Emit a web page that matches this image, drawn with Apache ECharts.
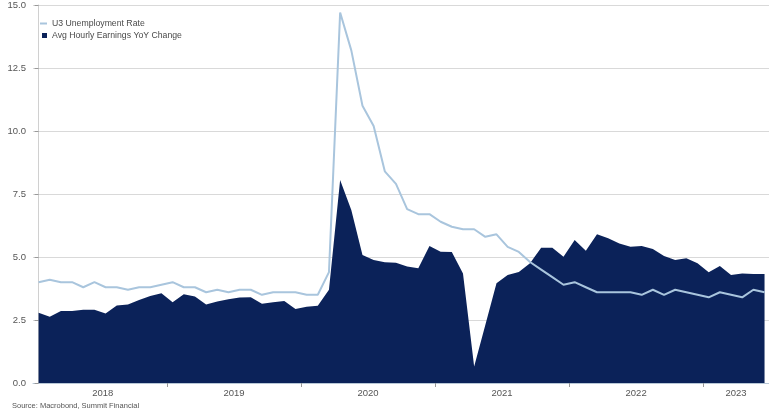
<!DOCTYPE html>
<html>
<head>
<meta charset="utf-8">
<script src="https://cdn.jsdelivr.net/npm/echarts@6/dist/echarts.min.js"></script>
<style>
  html, body { margin: 0; padding: 0; background: #fff; }
  #chart { width: 769px; height: 415px; }
</style>
</head>
<body>
<div id="chart"></div>
<script>
  // monthly observations, Jan 2018 .. Jun 2023
  const months = []
  for (let y = 2018; y <= 2023; y++) {
    for (let m = 1; m <= 12; m++) {
      if (y === 2023 && m > 6) break
      months.push(y + '-' + String(m).padStart(2, '0'))
    }
  }

  // U3 unemployment rate (%)
  const unemployment = [
    4.0, 4.1, 4.0, 4.0, 3.8, 4.0, 3.8, 3.8, 3.7, 3.8, 3.8, 3.9,
    4.0, 3.8, 3.8, 3.6, 3.7, 3.6, 3.7, 3.7, 3.5, 3.6, 3.6, 3.6,
    3.5, 3.5, 4.4, 14.7, 13.2, 11.0, 10.2, 8.4, 7.9, 6.9, 6.7, 6.7,
    6.4, 6.2, 6.1, 6.1, 5.8, 5.9, 5.4, 5.2, 4.8, 4.5, 4.2, 3.9,
    4.0, 3.8, 3.6, 3.6, 3.6, 3.6, 3.5, 3.7, 3.5, 3.7, 3.6, 3.5,
    3.4, 3.6, 3.5, 3.4, 3.7, 3.6
  ]

  // avg hourly earnings, YoY change (%)
  const earnings = [
    2.79, 2.63, 2.86, 2.86, 2.91, 2.91, 2.76, 3.08, 3.12, 3.29, 3.45, 3.56,
    3.2, 3.52, 3.43, 3.12, 3.23, 3.32, 3.39, 3.4, 3.14, 3.2, 3.25, 2.94,
    3.03, 3.07, 3.7, 8.06, 6.87, 5.08, 4.88, 4.79, 4.77, 4.62, 4.55, 5.44,
    5.21, 5.2, 4.35, 0.65, 2.3, 3.96, 4.29, 4.4, 4.75, 5.37, 5.37, 5.01,
    5.67, 5.25, 5.9, 5.74, 5.54, 5.41, 5.44, 5.32, 5.04, 4.88, 4.95, 4.75,
    4.39, 4.64, 4.29, 4.35, 4.33, 4.33
  ]

  // x axis: year boundaries and year label positions (month index units)
  const yearTicks = [11.5, 23.5, 35.5, 47.5, 59.5]
  const yearLabelPos = [5.75, 17.5, 29.5, 41.5, 53.5, 62.45]

  const yTicks = [0, 2.5, 5, 7.5, 10, 12.5, 15]

  const fontFamily = '"Liberation Sans", Arial, sans-serif'

  const chart = echarts.init(document.getElementById('chart'))
  chart.setOption({
    animation: false,
    textStyle: { fontFamily },
    grid: { left: 33, right: 0, top: 5, bottom: 32 },
    legend: [
      {
        data: ['U3 Unemployment Rate'],
        left: 40,
        top: 19,
        icon: 'rect',
        itemWidth: 7,
        itemHeight: 2,
        selectedMode: false,
        padding: 0,
        textStyle: { fontSize: 8.7, color: '#4a4a4a', fontFamily }
      },
      {
        data: ['Avg Hourly Earnings YoY Change'],
        left: 42,
        top: 31,
        icon: 'rect',
        itemWidth: 5,
        itemHeight: 5,
        selectedMode: false,
        padding: 0,
        textStyle: { fontSize: 8.7, color: '#4a4a4a', fontFamily }
      }
    ],
    xAxis: {
      type: 'value',
      min: -0.5,
      max: 65.4,
      splitLine: { show: false },
      axisLine: { show: true, lineStyle: { color: '#b7c7d6', width: 1 } },
      axisTick: {
        show: true,
        customValues: yearTicks,
        length: 4,
        lineStyle: { color: '#999' }
      },
      axisLabel: {
        customValues: yearLabelPos,
        formatter: (v) => String(2018 + Math.floor((v + 0.5) / 12)),
        color: '#555',
        fontSize: 9.5,
        margin: 5
      }
    },
    yAxis: {
      type: 'value',
      min: yTicks[0],
      max: yTicks[yTicks.length - 1],
      interval: 2.5,
      axisLine: { show: true, lineStyle: { color: '#d0d0d0' } },
      axisTick: { show: true, length: 4, lineStyle: { color: '#999' } },
      splitLine: { lineStyle: { color: '#d9d9d9', width: 1 } },
      axisLabel: {
        formatter: (v) => v.toFixed(1),
        color: '#555',
        fontSize: 9.5,
        margin: 7
      }
    },
    series: [
      {
        name: 'Avg Hourly Earnings YoY Change',
        type: 'line',
        data: earnings.map((v, i) => [i, v]),
        showSymbol: false,
        itemStyle: { color: '#0b2259' },
        lineStyle: { width: 0 },
        areaStyle: { color: '#0b2259', opacity: 1 },
        z: 2
      },
      {
        name: 'U3 Unemployment Rate',
        type: 'line',
        data: unemployment.map((v, i) => [i, v]),
        showSymbol: false,
        itemStyle: { color: '#a9c5dd' },
        lineStyle: { color: '#a9c5dd', width: 2 },
        z: 3
      }
    ],
    graphic: [
      {
        type: 'text',
        left: 12,
        top: 402,
        style: {
          text: 'Source: Macrobond, Summit Financial',
          fill: '#555',
          fontSize: 7.5,
          fontFamily
        }
      }
    ]
  })
</script>
</body>
</html>
